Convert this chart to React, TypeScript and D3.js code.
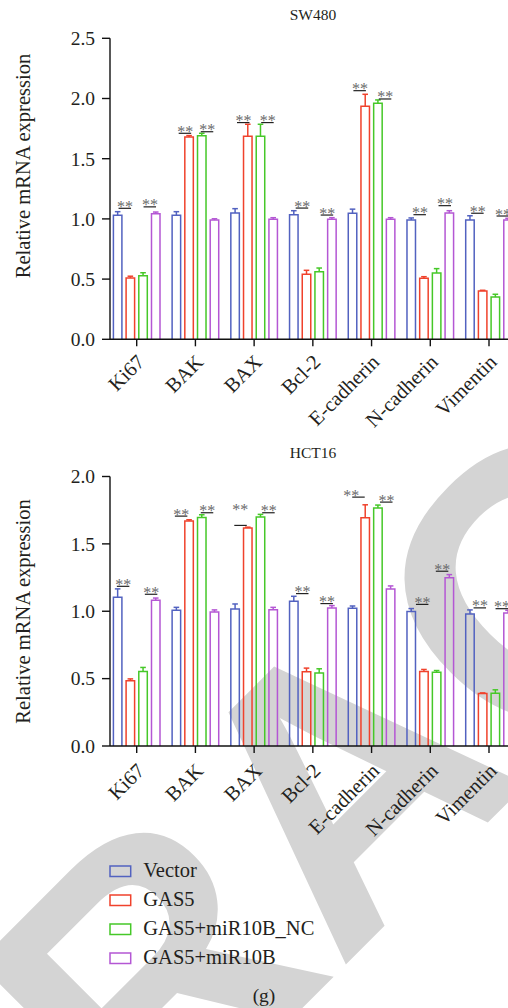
import React from "react";
import * as d3 from "d3";

const CATEGORIES = ["Ki67", "BAK", "BAX", "Bcl-2", "E-cadherin", "N-cadherin", "Vimentin"];
const SERIES = ["Vector", "GAS5", "GAS5+miR10B_NC", "GAS5+miR10B"];
const COLORS = ["#5262c0", "#f0422c", "#46c828", "#b457d4"];

// SW480 means and SEM
const SW480_VECTOR = [1.03, 1.03, 1.05, 1.035, 1.046, 0.99, 0.99];
const SW480_VECTOR_ERR = [0.03, 0.03, 0.035, 0.033, 0.035, 0.018, 0.036];
const SW480_GAS5 = [0.51, 1.68, 1.686, 0.54, 1.935, 0.507, 0.401];
const SW480_GAS5_ERR = [0.014, 0.012, 0.1, 0.033, 0.1, 0.013, 0.006];
const SW480_NC = [0.528, 1.69, 1.686, 0.561, 1.96, 0.551, 0.351];
const SW480_NC_ERR = [0.025, 0.021, 0.1, 0.031, 0.028, 0.036, 0.023];
const SW480_MIR = [1.043, 0.99, 0.997, 0.997, 0.997, 1.049, 0.99];
const SW480_MIR_ERR = [0.014, 0.011, 0.013, 0.013, 0.013, 0.019, 0.015];

// HCT16 means and SEM
const HCT16_VECTOR = [1.103, 1.007, 1.017, 1.074, 1.022, 0.999, 0.98];
const HCT16_VECTOR_ERR = [0.063, 0.022, 0.037, 0.037, 0.017, 0.021, 0.03];
const HCT16_GAS5 = [0.484, 1.669, 1.617, 0.551, 1.694, 0.553, 0.389];
const HCT16_GAS5_ERR = [0.014, 0.01, 0.007, 0.027, 0.096, 0.015, 0.005];
const HCT16_NC = [0.553, 1.696, 1.7, 0.541, 1.766, 0.548, 0.392];
const HCT16_NC_ERR = [0.03, 0.02, 0.019, 0.032, 0.022, 0.012, 0.025];
const HCT16_MIR = [1.081, 0.995, 1.012, 1.024, 1.166, 1.248, 0.987];
const HCT16_MIR_ERR = [0.017, 0.015, 0.017, 0.018, 0.022, 0.024, 0.02];

// significance marks: [category index, series index, level of the underline, level of the text or null]
const SW480_SIG = [
  [0, 1, 1.088, null], [0, 3, 1.1, null],
  [1, 1, 1.711, null], [1, 2, 1.724, null],
  [2, 1, 1.8, null], [2, 2, 1.8, null],
  [3, 1, 1.09, null], [3, 3, 1.032, null],
  [4, 1, 2.065, null], [4, 2, 1.996, null],
  [5, 1, 1.035, null], [5, 3, 1.11, null],
  [6, 1, 1.047, null], [6, 3, 1.024, null],
];
const HCT16_SIG = [
  [0, 1, 1.185, null], [0, 3, 1.126, null],
  [1, 1, 1.706, null], [1, 2, 1.731, null],
  [2, 1, 1.637, 1.78], [2, 2, 1.731, null],
  [3, 1, 1.131, null], [3, 3, 1.057, null],
  [4, 1, 1.847, null], [4, 2, 1.81, null],
  [5, 1, 1.051, null], [5, 3, 1.297, null],
  [6, 1, 1.025, null], [6, 3, 1.019, null],
];
// horizontal nudges (px) of each mark relative to its bar, and of its text relative to its line
const SW480_SIG_DX = [-5.3, -5.7, -3.9, 5.5, -4.3, 7.2, -4.3, -4.7, -5.3, 7.4, -4, -4.3, -5, -5];
const SW480_SIG_TDX = [0, 0, 0, 0, 0, 0, 0, 0, 0, 0, 0, 0, 0, 0];
const HCT16_SIG_DX = [-7, -4.4, -7.7, 5.5, -7, 8.2, -4, -5, -6.5, 8.6, -1.5, -7, -2.6, -6];
const HCT16_SIG_TDX = [0, 0, 0, 0, -0.5, 0, 0, 0, -7.5, 0, 0, 0, 0, 0];

const SW480_TICKS = [0, 0.5, 1.0, 1.5, 2.0, 2.5];
const HCT16_TICKS = [0, 0.5, 1.0, 1.5, 2.0];

const FONT = "'Liberation Serif', 'Times New Roman', serif";
const TEXT = "#231f20";

const W = 508;
const H = 1008;

const xOuter = d3.scalePoint<string>().domain(CATEGORIES).range([136.7, 489]);
const xInner = d3.scaleBand<string>().domain(SERIES).range([-23.3, 23.3]).paddingInner(0.33).paddingOuter(0);

type PanelProps = {
  title: string;
  titleY: number;
  y: d3.ScaleLinear<number, number>;
  ticks: number[];
  values: number[][];
  errors: number[][];
  sig: (number | null)[][];
  sigDx: number[];
  sigTdx: number[];
  labelCenterY: number;
  catLabelDy: number;
};

function Panel({ title, titleY, y, ticks, values, errors, sig, sigDx, sigTdx, labelCenterY, catLabelDy }: PanelProps) {
  const axisX = 110;
  const y0 = y(0);
  const yTop = y(ticks[ticks.length - 1]);
  const bw = xInner.bandwidth();
  const barCenter = (ci: number, si: number) =>
    (xOuter(CATEGORIES[ci]) as number) + (xInner(SERIES[si]) as number) + bw / 2;
  return (
    <g>
      <text x={313} y={titleY} textAnchor="middle" fontFamily={FONT} fontSize={15.5} fill={TEXT}>
        {title}
      </text>
      <text
        transform={`translate(30,${labelCenterY}) rotate(-90)`}
        textAnchor="middle"
        fontFamily={FONT}
        fontSize={20.5}
        fill={TEXT}
      >
        Relative mRNA expression
      </text>
      {/* bars */}
      {SERIES.map((s, si) =>
        CATEGORIES.map((c, ci) => {
          const v = values[si][ci];
          const e = errors[si][ci];
          const cx = barCenter(ci, si);
          const x0 = cx - bw / 2;
          const yv = y(v);
          const ye = y(v + e);
          return (
            <g key={`${s}-${c}`} stroke={COLORS[si]} strokeWidth={1.5} fill="none">
              <path d={`M${x0},${y0}V${yv}H${x0 + bw}V${y0}`} />
              <line x1={cx} x2={cx} y1={yv} y2={ye} />
              <line x1={cx - 2.8} x2={cx + 2.8} y1={ye} y2={ye} />
            </g>
          );
        })
      )}
      {/* significance */}
      {sig.map((m, i) => {
        const ci = m[0] as number;
        const si = m[1] as number;
        const lv = m[2] as number;
        const tv = m[3] as number | null;
        const cx = barCenter(ci, si) + sigDx[i];
        const ly = y(lv);
        const ty = tv == null ? ly + 3.5 : y(tv) + 3.5 + 5;
        return (
          <g key={`sig-${i}`}>
            <text x={cx + sigTdx[i]} y={ty} textAnchor="middle" fontFamily={FONT} fontSize={16} fill="#6a6a6a">
              **
            </text>
            <line x1={cx - 6.5} x2={cx + 6} y1={ly} y2={ly} stroke="#222" strokeWidth={1.2} />
          </g>
        );
      })}
      {/* y axis */}
      <line x1={axisX} x2={axisX} y1={yTop} y2={y0} stroke="#111" strokeWidth={1.4} />
      {ticks.map((t) => (
        <g key={`yt-${t}`}>
          <line x1={axisX - 8} x2={axisX} y1={y(t)} y2={y(t)} stroke="#111" strokeWidth={1.4} />
          <text x={95} y={y(t)} dy="0.35em" textAnchor="end" fontFamily={FONT} fontSize={19.5} fill={TEXT}>
            {d3.format(".1f")(t)}
          </text>
        </g>
      ))}
      {/* x axis */}
      <line x1={axisX} x2={W + 10} y1={y0} y2={y0} stroke="#111" strokeWidth={1.4} />
      {CATEGORIES.map((c) => {
        const cx = xOuter(c) as number;
        return (
          <g key={`xt-${c}`}>
            <line x1={cx} x2={cx} y1={y0} y2={y0 + 7} stroke="#111" strokeWidth={1.4} />
            <text
              transform={`translate(${cx + 9},${y0 + catLabelDy}) rotate(-45)`}
              textAnchor="end"
              fontFamily={FONT}
              fontSize={20.5}
              fill={TEXT}
            >
              {c}
            </text>
          </g>
        );
      })}
    </g>
  );
}

export default function App() {
  const yTopPanel = d3.scaleLinear().domain([0, 2.5]).range([339.3, 38.3]);
  const yBottomPanel = d3.scaleLinear().domain([0, 2.0]).range([746, 476.5]);
  const wmSize = 380;
  return (
    <svg
      width={W}
      height={H}
      viewBox={`0 0 ${W} ${H}`}
      style={{ position: "absolute", left: 0, top: 0, background: "#fff" }}
    >
      <rect x={0} y={0} width={W} height={H} fill="#fff" />
      <text
        transform="translate(340,778) rotate(-45)"
        y={wmSize * 0.716 * 0.5}
        textAnchor="middle"
        fontFamily="'Liberation Sans', Arial, sans-serif"
        fontWeight="bold"
        fontSize={wmSize}
        fill="#d4d4d4"
      >
        RETRACTED
      </text>
      <Panel
        title="SW480"
        titleY={20}
        y={yTopPanel}
        ticks={SW480_TICKS}
        values={[SW480_VECTOR, SW480_GAS5, SW480_NC, SW480_MIR]}
        errors={[SW480_VECTOR_ERR, SW480_GAS5_ERR, SW480_NC_ERR, SW480_MIR_ERR]}
        sig={SW480_SIG}
        sigDx={SW480_SIG_DX}
        sigTdx={SW480_SIG_TDX}
        labelCenterY={166}
        catLabelDy={24}
      />
      <Panel
        title="HCT16"
        titleY={457.5}
        y={yBottomPanel}
        ticks={HCT16_TICKS}
        values={[HCT16_VECTOR, HCT16_GAS5, HCT16_NC, HCT16_MIR]}
        errors={[HCT16_VECTOR_ERR, HCT16_GAS5_ERR, HCT16_NC_ERR, HCT16_MIR_ERR]}
        sig={HCT16_SIG}
        sigDx={HCT16_SIG_DX}
        sigTdx={HCT16_SIG_TDX}
        labelCenterY={611.5}
        catLabelDy={26}
      />
      {/* legend */}
      {SERIES.map((s, i) => (
        <g key={`lg-${s}`}>
          <rect x={110} y={866 + i * 29} width={20.7} height={10.5} fill="none" stroke={COLORS[i]} strokeWidth={1.5} />
          <text x={143.3} y={876.5 + i * 29} fontFamily={FONT} fontSize={20.5} fill={TEXT}>
            {s}
          </text>
        </g>
      ))}
      <text x={264} y={1002} textAnchor="middle" fontFamily={FONT} fontSize={19.5} fill={TEXT}>
        (g)
      </text>
    </svg>
  );
}
